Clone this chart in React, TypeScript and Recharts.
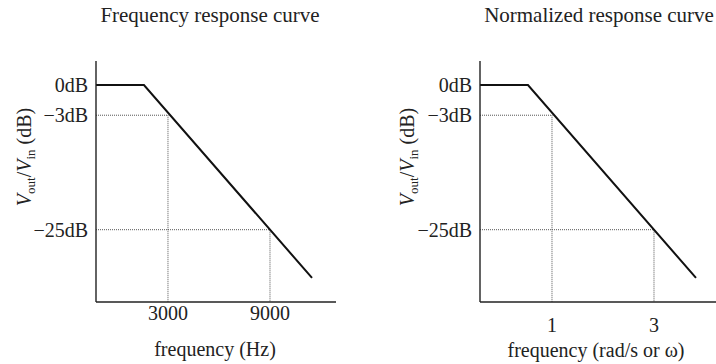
import React from 'react';
import { LineChart, Line, XAxis, YAxis, ReferenceLine } from 'recharts';

// ---- data ----
// vertical axis is drawn not-to-scale: these are plotted levels with dB labels
const yTickLevels = [0, -5, -24];
const yTickLabels = ['0dB', '\u22123dB', '\u221225dB'];
const yRange = [-36, 4];

// left panel: frequency in Hz (log axis)
const hzRange = [1382, 18320];
const hzTicks = [3000, 9000];
const hzCurveF = [1382, 2316, 14150];
// right panel: normalized frequency
const normRange = [0.4605, 5.85];
const normTicks = [1, 3];
const normCurveF = [0.4605, 0.772, 4.716];

const curveLevels = [0, 0, -32];
// guide points: (-3dB, -25dB) levels
const guideLevels = [-5, -24];

const FONT = '"Liberation Serif", "Times New Roman", serif';
const TXT = '#222';
const FS = 20;

const tickLabel = (v: number) => {
  const i = yTickLevels.indexOf(v);
  return i >= 0 ? yTickLabels[i] : '';
};

type PanelProps = {
  left: number;
  width: number;
  marginLeft: number;
  marginRight: number;
  range: number[];
  ticks: number[];
  curveF: number[];
  xTickMargin: number;
};

const Y_W = 70;
const X_H = 40;

function Panel({ left, width, marginLeft, marginRight, range, ticks, curveF, xTickMargin }: PanelProps) {
  const data = curveF.map((f, i) => ({ f, level: curveLevels[i] }));
  return (
    <div style={{ position: 'absolute', left, top: 0 }}>
      <LineChart
        width={width}
        height={364}
        data={data}
        margin={{ top: 61, right: marginRight, bottom: 62 - X_H, left: marginLeft - Y_W }}
      >
        <XAxis
          dataKey="f"
          type="number"
          scale="log"
          domain={range}
          allowDataOverflow
          ticks={ticks}
          height={X_H}
          tickLine={false}
          tickSize={0}
          tickMargin={xTickMargin}
          axisLine={{ stroke: '#222', strokeWidth: 1.4 }}
          tick={{ fill: TXT, fontSize: FS, fontFamily: FONT }}
        />
        <YAxis
          dataKey="level"
          type="number"
          domain={yRange}
          allowDataOverflow
          ticks={yTickLevels}
          tickFormatter={tickLabel}
          width={Y_W}
          tickLine={false}
          tickSize={0}
          tickMargin={8}
          axisLine={{ stroke: '#222', strokeWidth: 1.4 }}
          tick={{ fill: TXT, fontSize: FS, fontFamily: FONT }}
        />
        {ticks.map((t, i) => (
          <ReferenceLine
            key={'h' + i}
            segment={[
              { x: range[0], y: guideLevels[i] },
              { x: t, y: guideLevels[i] },
            ]}
            stroke="#555"
            strokeWidth={1}
            strokeDasharray="1 1"
          />
        ))}
        {ticks.map((t, i) => (
          <ReferenceLine
            key={'v' + i}
            segment={[
              { x: t, y: guideLevels[i] },
              { x: t, y: yRange[0] },
            ]}
            stroke="#555"
            strokeWidth={1}
            strokeDasharray="1 1"
          />
        ))}
        <Line
          type="linear"
          dataKey="level"
          stroke="#111"
          strokeWidth={2}
          dot={false}
          isAnimationActive={false}
        />
      </LineChart>
    </div>
  );
}

const textStyle: React.CSSProperties = {
  position: 'absolute',
  fontFamily: FONT,
  fontSize: FS,
  color: TXT,
  whiteSpace: 'nowrap',
  transform: 'translate(-50%, -50%)',
  lineHeight: 1,
};

function YTitle({ x, y }: { x: number; y: number }) {
  return (
    <div
      style={{
        ...textStyle,
        left: x,
        top: y,
        transform: 'translate(-50%, -50%) rotate(-90deg)',
      }}
    >
      <i>V</i>
      <sub style={{ fontSize: 13, verticalAlign: '-4px' }}>out</sub>/<i>V</i>
      <sub style={{ fontSize: 13, verticalAlign: '-4px' }}>in</sub> (dB)
    </div>
  );
}

export default function App() {
  return (
    <div style={{ position: 'absolute', left: 0, top: 0, width: 716, height: 364, background: '#fff', overflow: 'hidden' }}>
      <Panel left={0} width={358} marginLeft={96} marginRight={22} range={hzRange} ticks={hzTicks} curveF={hzCurveF} xTickMargin={4} />
      <Panel left={358} width={358} marginLeft={122} marginRight={0} range={normRange} ticks={normTicks} curveF={normCurveF} xTickMargin={16} />
      <div style={{ ...textStyle, fontSize: 21, left: 210, top: 15 }}>Frequency response curve</div>
      <div style={{ ...textStyle, fontSize: 21, left: 599, top: 15 }}>Normalized response curve</div>
      <div style={{ ...textStyle, left: 215, top: 349 }}>frequency (Hz)</div>
      <div style={{ ...textStyle, left: 596, top: 350 }}>frequency (rad/s or &omega;)</div>
      <YTitle x={25} y={157} />
      <YTitle x={408} y={157} />
    </div>
  );
}
